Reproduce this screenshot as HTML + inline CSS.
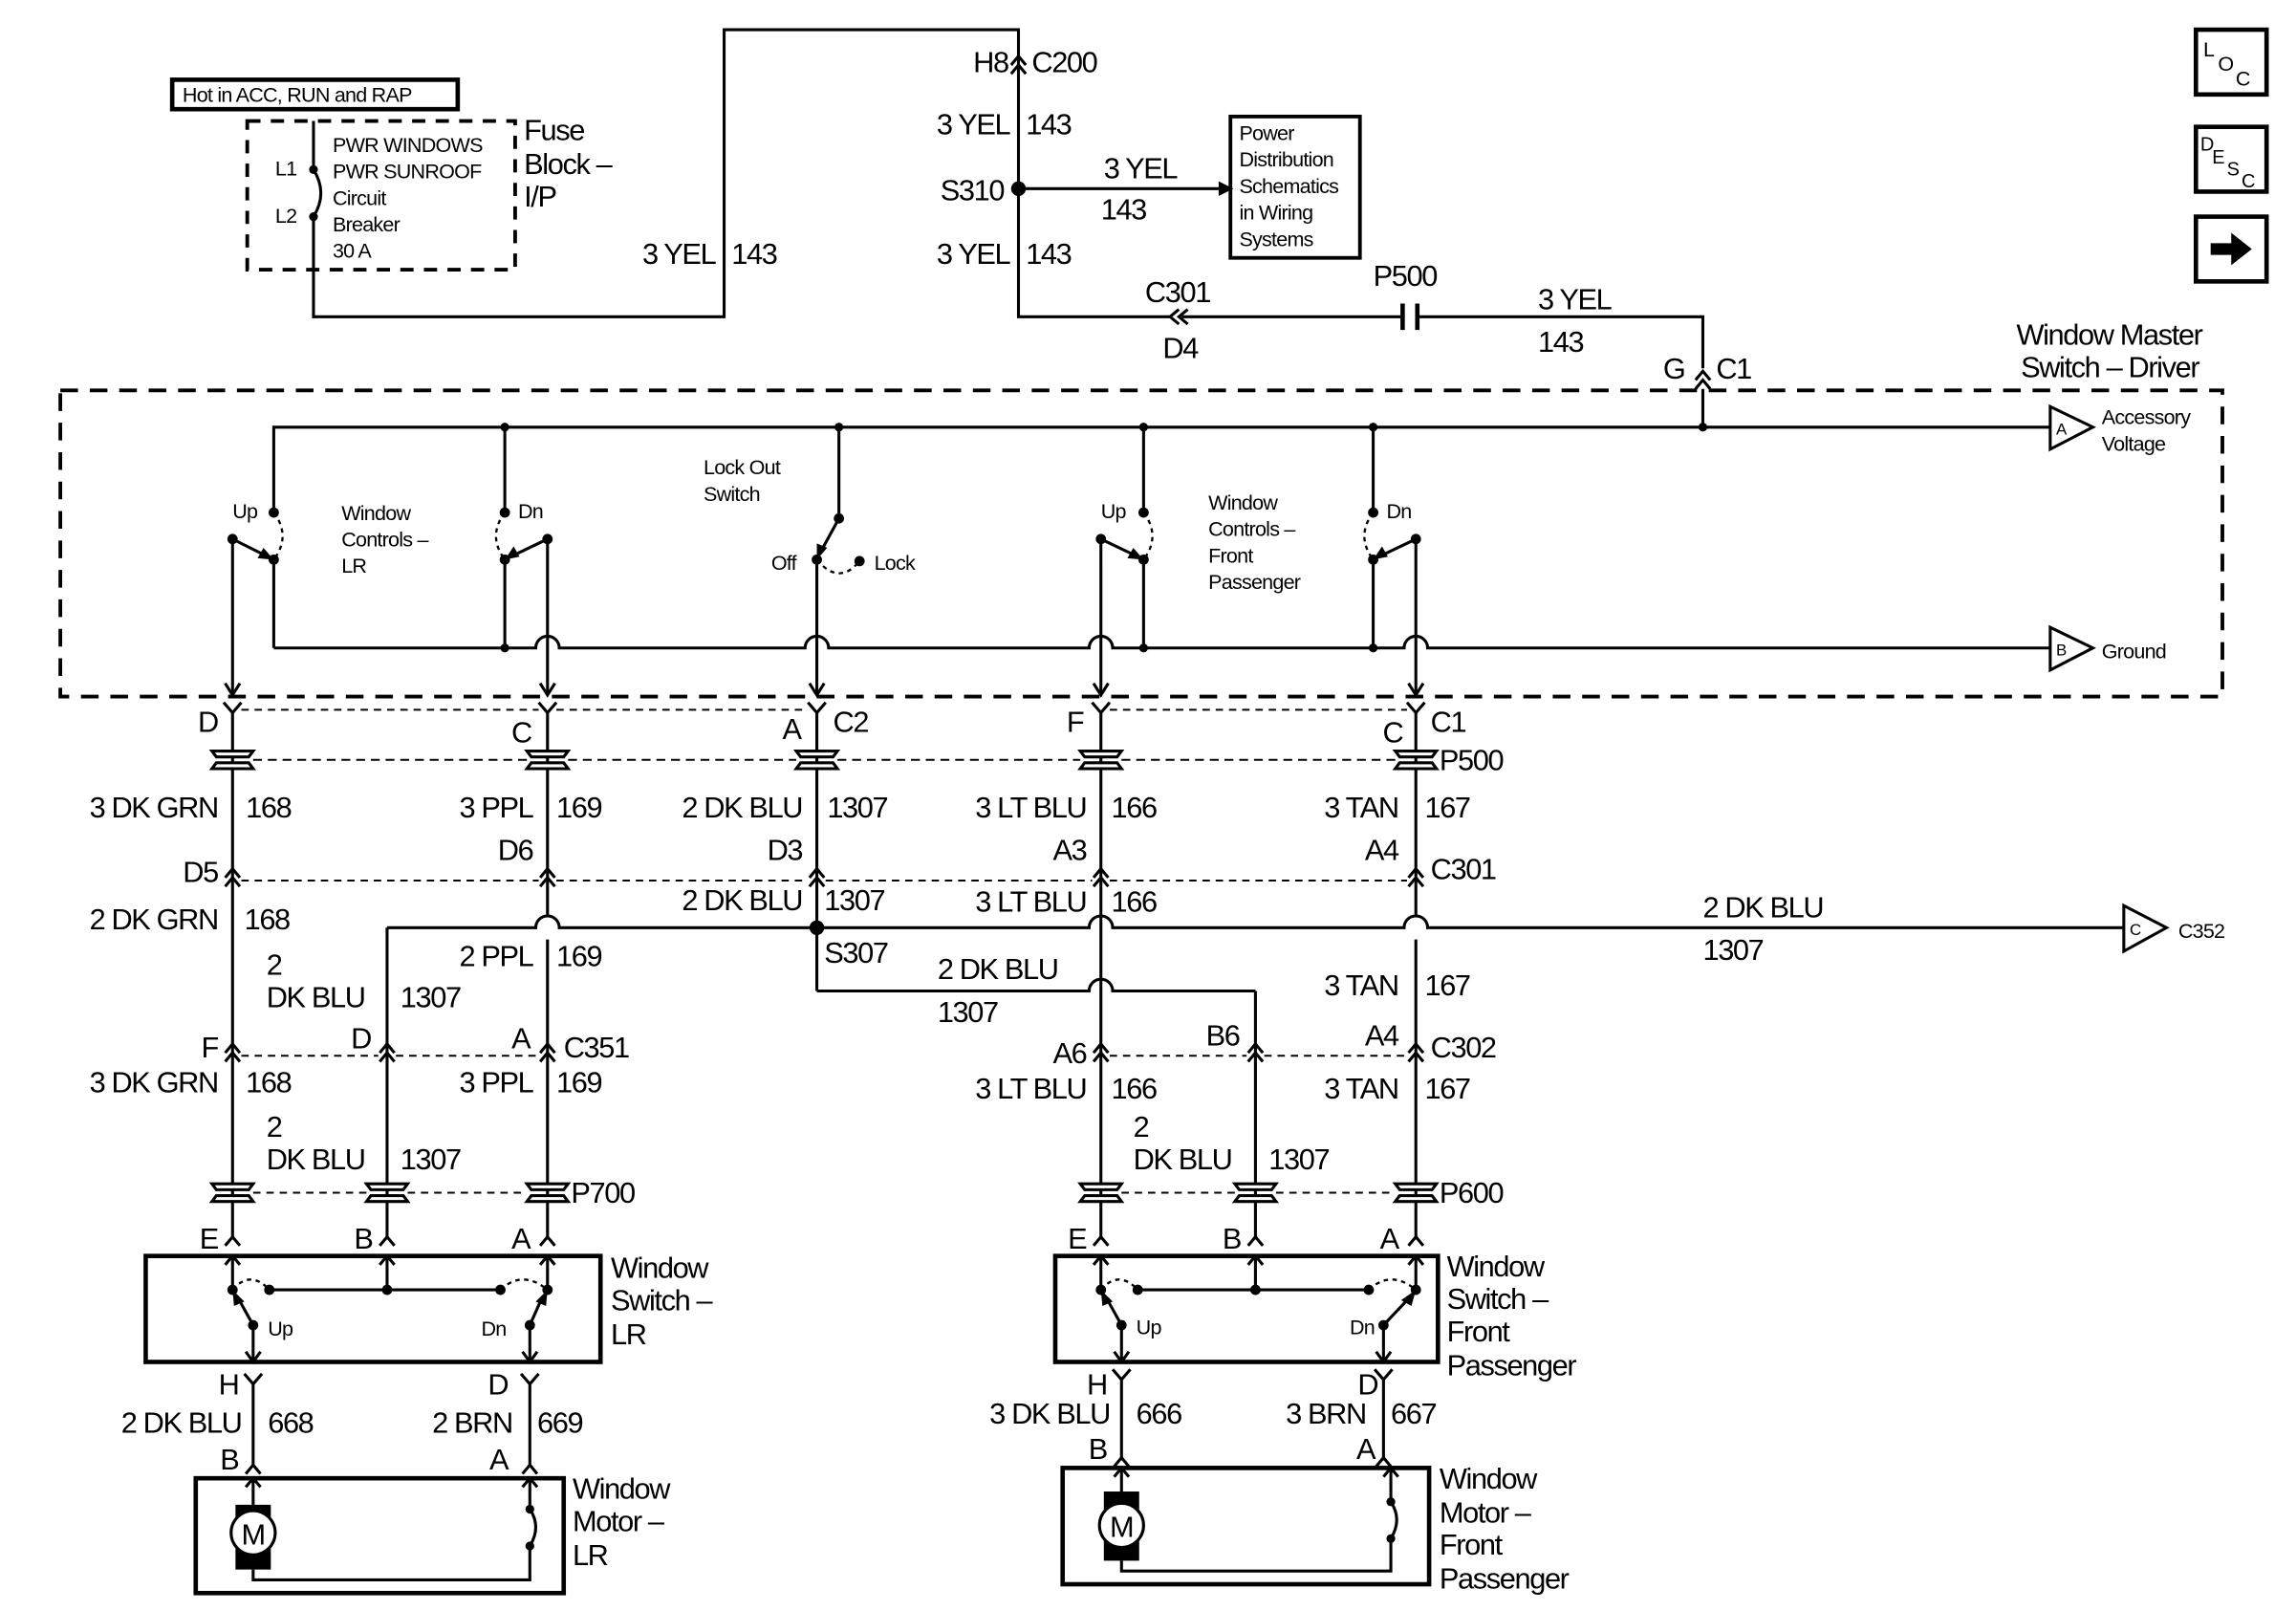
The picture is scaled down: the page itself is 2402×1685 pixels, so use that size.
<!DOCTYPE html>
<html><head><meta charset="utf-8"><style>
html,body{margin:0;padding:0;background:#fff}
svg{display:block}
text{font-family:"Liberation Sans",sans-serif;fill:#000}
.b{font-size:20px;letter-spacing:-0.9px}
.s{font-size:14px;letter-spacing:-0.5px}
.r{text-anchor:end}
</style></head><body>
<svg width="2402" height="1685" viewBox="0 0 1560 1094" xmlns="http://www.w3.org/2000/svg">
<g fill="none" stroke="#000" stroke-width="2">
<rect x="117" y="54" width="194" height="20" stroke-width="3"/>
<rect x="168" y="82" width="182" height="101" stroke-dasharray="9,7" stroke-width="2.5"/>
<path d="M213 82V115 M213 147V215H492V20H692V215H795 M803 215H952 M964 215H1157V250"/>
<path d="M213 115Q223 131 213 147"/>
<path d="M692 128H828"/>
<rect x="836" y="79" width="88" height="96" stroke-width="2.5"/>
<path d="M687 44L692 38L697 44M687 50L692 44L697 50"/>
<path d="M801 210L795 215L801 220M807 210L801 215L807 220"/>
<path d="M953 206V224M963 206V224" stroke-width="3"/>
<path d="M1152 258L1157 252L1162 258M1152 264L1157 258L1162 264M1157 264V290"/>
<rect x="41" y="265" width="1469" height="208" stroke-dasharray="12,8" stroke-width="2.5"/>
<path d="M186 345V290H1393"/>
<path d="M186 380V440"/>
<path d="M186 440H364A8 8 0 0 1 380 440H547A8 8 0 0 1 563 440H740A8 8 0 0 1 756 440H954A8 8 0 0 1 970 440H1393"/>
<path d="M158 366V472 M158 366L180 377"/>
<path d="M186 348Q198 364 186 380" stroke-dasharray="3,3" stroke-width="1.5"/>
<path d="M343 290V348 M343 380V440 M372 366V472 M372 366L349 377" />
<path d="M343 348Q331 364 343 380" stroke-dasharray="3,3" stroke-width="1.5"/>
<path d="M570 290V352 M570 352L558 374 M555 380V472"/>
<path d="M555 380Q570 398 584 381" stroke-dasharray="3,3" stroke-width="1.5"/>
<path d="M777 290V348 M777 380V440 M748 366V472 M748 366L771 377"/>
<path d="M777 348Q789 364 777 380" stroke-dasharray="3,3" stroke-width="1.5"/>
<path d="M933 290V348 M933 380V440 M962 366V472 M962 366L939 377"/>
<path d="M933 348Q921 364 933 380" stroke-dasharray="3,3" stroke-width="1.5"/>
<path d="M1393 276L1422 290L1393 305Z M1393 426L1422 440L1393 455Z M1443 615L1472 630L1443 646Z"/>
<path d="M153 464L158 472L163 464M367 464L372 472L377 464M550 464L555 472L560 464M743 464L748 472L753 464M957 464L962 472L967 464"/>
<path d="M152 477L158 484L164 477M366 477L372 484L378 477M549 477L555 484L561 477M742 477L748 484L754 477M956 477L962 484L968 477"/>
<path d="M164 482H366M378 482H549M754 482H956" stroke-dasharray="5,4" stroke-width="1.3"/>
<path d="M158 484V840M372 484V622M372 638V840M555 484V673M748 484V840M962 484V622M962 638V840M263 630V840M853 673V840"/>
<path d="M263 630H364A8 8 0 0 1 380 630H740A8 8 0 0 1 756 630H954A8 8 0 0 1 970 630H1443"/>
<path d="M555 673H740A8 8 0 0 1 756 673H853"/>
<path d="M172 516H358M386 516H541M569 516H734M762 516H948" stroke-dasharray="6,4" stroke-width="1.3"/>
<path d="M153 596L158 590L163 596M153 602L158 596L163 602M367 596L372 590L377 596M367 602L372 596L377 602M550 596L555 590L560 596M550 602L555 596L560 602M743 596L748 590L753 596M743 602L748 596L753 602M957 596L962 590L967 596M957 602L962 596L967 602"/>
<path d="M164 598H366M378 598H549M561 598H742M754 598H956" stroke-dasharray="5,4" stroke-width="1.3"/>
<path d="M153 715L158 709L163 715M153 721L158 715L163 721M258 715L263 709L268 715M258 721L263 715L268 721M367 715L372 709L377 715M367 721L372 715L377 721"/>
<path d="M743 715L748 709L753 715M743 721L748 715L753 721M848 715L853 709L858 715M848 721L853 715L858 721M957 715L962 709L967 715M957 721L962 715L967 721"/>
<path d="M164 717H257M269 717H366M754 717H847M859 717H956" stroke-dasharray="5,4" stroke-width="1.3"/>
<path d="M172 810H249M277 810H358M762 810H839M867 810H948" stroke-dasharray="5,4" stroke-width="1.3"/>
<path d="M153 846L158 840L163 846M258 846L263 840L268 846M367 846L372 840L377 846M743 846L748 840L753 846M848 846L853 840L858 846M957 846L962 840L967 846"/>
<rect x="99" y="853" width="309" height="72" stroke-width="3"/>
<path d="M158 853V876M153 859L158 853L163 859M263 853V876M258 859L263 853L268 859M372 853V876M367 859L372 853L377 859"/>
<path d="M183 876H340M172 900L162 882M172 900V925M167 918L172 925L177 918M360 900L368 882M360 900V925M355 918L360 925L365 918"/>
<path d="M158 876Q170 862 183 876M340 876Q355 862 372 876" stroke-dasharray="3,3" stroke-width="1.5"/>
<rect x="717" y="853" width="260" height="72" stroke-width="3"/>
<path d="M748 853V876M743 859L748 853L753 859M853 853V876M848 859L853 853L858 859M962 853V876M957 859L962 853L967 859"/>
<path d="M773 876H930M762 900L752 882M762 900V925M757 918L762 925L767 918M940 900L957 882M940 900V925M935 918L940 925L945 918"/>
<path d="M748 876Q760 862 773 876M930 876Q945 862 962 876" stroke-dasharray="3,3" stroke-width="1.5"/>
<path d="M166 933L172 940L178 933M172 940V995M167 1001L172 995L177 1001M354 933L360 940L366 933M360 940V995M355 1001L360 995L365 1001"/>
<path d="M756 930L762 937L768 930M762 937V990M757 996L762 990L767 996M934 930L940 937L946 930M940 937V990M935 996L940 990L945 996"/>
<rect x="133" y="1004" width="250" height="78" stroke-width="3"/>
<path d="M172 1004V1022M167 1010L172 1004L177 1010M172 1066V1073H360V1050M360 1025V1004M355 1010L360 1004L365 1010M360 1025Q368 1037 360 1050"/>
<rect x="722" y="997" width="249" height="79" stroke-width="3"/>
<path d="M762 997V1013M757 1003L762 997L767 1003M762 1060V1067H945V1045M945 1020V997M940 1003L945 997L950 1003M945 1020Q953 1032 945 1045"/>
<rect x="1492" y="20" width="48" height="44" stroke-width="3"/>
<rect x="1492" y="86" width="48" height="44" stroke-width="3"/>
<rect x="1492" y="147" width="48" height="44" stroke-width="3"/>
</g>
<g fill="#000">
<!-- blade arrowheads -->
<path d="M186 380L175 379L179 372Z"/>
<path d="M343 380L349 371L353 378Z"/>
<path d="M555 380L555 369L562 372Z"/>
<path d="M777 380L766 379L770 372Z"/>
<path d="M933 380L939 371L943 378Z"/>
<path d="M158 876L159 887L166 884Z"/>
<path d="M372 876L364 884L371 887Z"/>
<path d="M748 876L749 887L756 884Z"/>
<path d="M962 876L952 883L959 887Z"/>
<rect x="160" y="1022" width="24" height="44"/>
<circle cx="172" cy="1041" r="15" fill="#fff" stroke="#000" stroke-width="2"/>
<rect x="750" y="1013" width="24" height="47"/>
<circle cx="762" cy="1036" r="15" fill="#fff" stroke="#000" stroke-width="2"/>
<path d="M828 123L838 128L828 133Z"/>
<path d="M1502 165H1516V158L1530 169L1516 180V173H1502Z"/>
<circle cx="692" cy="128" r="5"/><circle cx="555" cy="630" r="5"/>
<circle cx="213" cy="115" r="3"/><circle cx="213" cy="147" r="3"/>
<circle cx="343" cy="290" r="3"/><circle cx="570" cy="290" r="3"/><circle cx="777" cy="290" r="3"/><circle cx="933" cy="290" r="3"/><circle cx="1157" cy="290" r="3"/>
<circle cx="186" cy="348" r="3.5"/><circle cx="186" cy="380" r="3.5"/><circle cx="158" cy="366" r="3.5"/>
<circle cx="343" cy="348" r="3.5"/><circle cx="343" cy="380" r="3.5"/><circle cx="372" cy="366" r="3.5"/><circle cx="343" cy="440" r="3"/>
<circle cx="570" cy="352" r="3.5"/><circle cx="555" cy="380" r="3.5"/><circle cx="584" cy="381" r="3.5"/>
<circle cx="777" cy="348" r="3.5"/><circle cx="777" cy="380" r="3.5"/><circle cx="748" cy="366" r="3.5"/><circle cx="777" cy="440" r="3"/>
<circle cx="933" cy="348" r="3.5"/><circle cx="933" cy="380" r="3.5"/><circle cx="962" cy="366" r="3.5"/><circle cx="933" cy="440" r="3"/>
<circle cx="158" cy="876" r="3.5"/><circle cx="183" cy="876" r="3.5"/><circle cx="263" cy="876" r="3.5"/><circle cx="340" cy="876" r="3.5"/><circle cx="372" cy="876" r="3.5"/><circle cx="172" cy="900" r="3.5"/><circle cx="360" cy="900" r="3.5"/>
<circle cx="748" cy="876" r="3.5"/><circle cx="773" cy="876" r="3.5"/><circle cx="853" cy="876" r="3.5"/><circle cx="930" cy="876" r="3.5"/><circle cx="962" cy="876" r="3.5"/><circle cx="762" cy="900" r="3.5"/><circle cx="940" cy="900" r="3.5"/>
<circle cx="360" cy="1025" r="3"/><circle cx="360" cy="1050" r="3"/><circle cx="945" cy="1020" r="3"/><circle cx="945" cy="1045" r="3"/>
</g>
<g fill="#fff" stroke="#000" stroke-width="2">
<path d="M-14 -6H14L11 -2H-11Z M-14 6H14L11 2H-11Z" transform="translate(158,516)"/>
<path d="M-14 -6H14L11 -2H-11Z M-14 6H14L11 2H-11Z" transform="translate(372,516)"/>
<path d="M-14 -6H14L11 -2H-11Z M-14 6H14L11 2H-11Z" transform="translate(555,516)"/>
<path d="M-14 -6H14L11 -2H-11Z M-14 6H14L11 2H-11Z" transform="translate(748,516)"/>
<path d="M-14 -6H14L11 -2H-11Z M-14 6H14L11 2H-11Z" transform="translate(962,516)"/>
<path d="M-14 -6H14L11 -2H-11Z M-14 6H14L11 2H-11Z" transform="translate(158,810)"/>
<path d="M-14 -6H14L11 -2H-11Z M-14 6H14L11 2H-11Z" transform="translate(263,810)"/>
<path d="M-14 -6H14L11 -2H-11Z M-14 6H14L11 2H-11Z" transform="translate(372,810)"/>
<path d="M-14 -6H14L11 -2H-11Z M-14 6H14L11 2H-11Z" transform="translate(748,810)"/>
<path d="M-14 -6H14L11 -2H-11Z M-14 6H14L11 2H-11Z" transform="translate(853,810)"/>
<path d="M-14 -6H14L11 -2H-11Z M-14 6H14L11 2H-11Z" transform="translate(962,810)"/>
</g>
<text x="1397" y="295" style="font-size:11px">A</text>
<text x="1397" y="445" style="font-size:11px">B</text>
<text x="1447" y="635" style="font-size:11px">C</text>
<text x="124" y="69" class="s">Hot in ACC, RUN and RAP</text>
<text x="187" y="119" class="s">L1</text><text x="187" y="151" class="s">L2</text>
<text class="s" x="226" y="103">PWR WINDOWS</text><text class="s" x="226" y="121">PWR SUNROOF</text><text class="s" x="226" y="139">Circuit</text><text class="s" x="226" y="157">Breaker</text><text class="s" x="226" y="175">30 A</text>
<text class="b" x="356" y="95">Fuse</text><text class="b" x="356" y="118">Block –</text><text class="b" x="356" y="140">I/P</text>
<text class="b r" x="486" y="179">3 YEL</text><text class="b" x="497" y="179">143</text>
<text class="b r" x="685" y="49">H8</text><text class="b" x="701" y="49">C200</text>
<text class="b r" x="686" y="91">3 YEL</text><text class="b" x="697" y="91">143</text>
<text class="b r" x="682" y="136">S310</text>
<text class="b" x="750" y="121">3 YEL</text><text class="b" x="748" y="149">143</text>
<text class="b r" x="686" y="179">3 YEL</text><text class="b" x="697" y="179">143</text>
<text class="s" x="842" y="95">Power</text><text class="s" x="842" y="113">Distribution</text><text class="s" x="842" y="131">Schematics</text><text class="s" x="842" y="149">in Wiring</text><text class="s" x="842" y="167">Systems</text>
<text class="b" x="778" y="205">C301</text><text class="b" x="790" y="243">D4</text>
<text class="b" x="933" y="194">P500</text>
<text class="b" x="1045" y="210">3 YEL</text><text class="b" x="1045" y="239">143</text>
<text class="b" x="1130" y="257">G</text><text class="b" x="1166" y="257">C1</text>
<text class="b" x="1370" y="234">Window Master</text><text class="b" x="1373" y="256">Switch – Driver</text>
<text class="s" x="1428" y="288">Accessory</text><text class="s" x="1428" y="306">Voltage</text>
<text class="s" x="1428" y="447">Ground</text>
<text class="s" x="1480" y="637">C352</text>
<text class="s" x="158" y="352">Up</text>
<text class="s" x="232" y="353">Window</text><text class="s" x="232" y="371">Controls –</text><text class="s" x="232" y="389">LR</text>
<text class="s" x="352" y="352">Dn</text>
<text class="s" x="478" y="322">Lock Out</text><text class="s" x="478" y="340">Switch</text>
<text class="s" x="524" y="387">Off</text><text class="s" x="594" y="387">Lock</text>
<text class="s" x="748" y="352">Up</text>
<text class="s" x="821" y="346">Window</text><text class="s" x="821" y="364">Controls –</text><text class="s" x="821" y="382">Front</text><text class="s" x="821" y="400">Passenger</text>
<text class="s" x="942" y="352">Dn</text>
<text class="b r" x="148" y="497">D</text><text class="b r" x="361" y="504">C</text><text class="b r" x="544" y="502">A</text><text class="b" x="566" y="497">C2</text>
<text class="b r" x="736" y="497">F</text><text class="b r" x="953" y="504">C</text><text class="b" x="972" y="497">C1</text>
<text class="b" x="978" y="523">P500</text>
<text class="b r" x="148" y="555">3 DK GRN</text><text class="b" x="167" y="555">168</text>
<text class="b r" x="362" y="555">3 PPL</text><text class="b" x="378" y="555">169</text>
<text class="b r" x="545" y="555">2 DK BLU</text><text class="b" x="562" y="555">1307</text>
<text class="b r" x="738" y="555">3 LT BLU</text><text class="b" x="755" y="555">166</text>
<text class="b r" x="950" y="555">3 TAN</text><text class="b" x="968" y="555">167</text>
<text class="b r" x="148" y="599">D5</text><text class="b r" x="362" y="584">D6</text><text class="b r" x="545" y="584">D3</text><text class="b r" x="738" y="584">A3</text><text class="b r" x="950" y="584">A4</text><text class="b" x="972" y="597">C301</text>
<text class="b r" x="148" y="631">2 DK GRN</text><text class="b" x="166" y="631">168</text>
<text class="b r" x="545" y="618">2 DK BLU</text><text class="b" x="560" y="618">1307</text>
<text class="b r" x="738" y="619">3 LT BLU</text><text class="b" x="755" y="619">166</text>
<text class="b" x="1157" y="623">2 DK BLU</text><text class="b" x="1157" y="652">1307</text>
<text class="b r" x="362" y="656">2 PPL</text><text class="b" x="378" y="656">169</text>
<text class="b" x="560" y="654">S307</text>
<text class="b" x="637" y="665">2 DK BLU</text><text class="b" x="637" y="694">1307</text>
<text class="b r" x="950" y="676">3 TAN</text><text class="b" x="968" y="676">167</text>
<text class="b" x="181" y="662">2</text><text class="b" x="181" y="684">DK BLU</text><text class="b" x="272" y="684">1307</text>
<text class="b r" x="148" y="718">F</text><text class="b r" x="252" y="712">D</text><text class="b r" x="360" y="712">A</text><text class="b" x="383" y="718">C351</text>
<text class="b r" x="738" y="722">A6</text><text class="b r" x="842" y="710">B6</text><text class="b r" x="950" y="710">A4</text><text class="b" x="972" y="718">C302</text>
<text class="b r" x="148" y="742">3 DK GRN</text><text class="b" x="167" y="742">168</text>
<text class="b r" x="362" y="742">3 PPL</text><text class="b" x="378" y="742">169</text>
<text class="b r" x="738" y="746">3 LT BLU</text><text class="b" x="755" y="746">166</text>
<text class="b r" x="950" y="746">3 TAN</text><text class="b" x="968" y="746">167</text>
<text class="b" x="181" y="772">2</text><text class="b" x="181" y="794">DK BLU</text><text class="b" x="272" y="794">1307</text>
<text class="b" x="770" y="772">2</text><text class="b" x="770" y="794">DK BLU</text><text class="b" x="862" y="794">1307</text>
<text class="b" x="388" y="817">P700</text><text class="b" x="978" y="817">P600</text>
<text class="b r" x="148" y="848">E</text><text class="b r" x="253" y="848">B</text><text class="b r" x="360" y="848">A</text>
<text class="b r" x="738" y="848">E</text><text class="b r" x="843" y="848">B</text><text class="b r" x="950" y="848">A</text>
<text class="s" x="182" y="907">Up</text><text class="s" x="327" y="907">Dn</text>
<text class="s" x="772" y="906">Up</text><text class="s" x="917" y="906">Dn</text>
<text class="b" x="415" y="868">Window</text><text class="b" x="415" y="890">Switch –</text><text class="b" x="415" y="913">LR</text>
<text class="b" x="983" y="867">Window</text><text class="b" x="983" y="889">Switch –</text><text class="b" x="983" y="911">Front</text><text class="b" x="983" y="934">Passenger</text>
<text class="b r" x="162" y="947">H</text><text class="b r" x="345" y="947">D</text>
<text class="b r" x="164" y="973">2 DK BLU</text><text class="b" x="182" y="973">668</text>
<text class="b r" x="348" y="973">2 BRN</text><text class="b" x="365" y="973">669</text>
<text class="b r" x="162" y="998">B</text><text class="b r" x="345" y="998">A</text>
<text class="b r" x="752" y="947">H</text><text class="b r" x="936" y="947">D</text>
<text class="b r" x="754" y="967">3 DK BLU</text><text class="b" x="772" y="967">666</text>
<text class="b r" x="928" y="967">3 BRN</text><text class="b" x="945" y="967">667</text>
<text class="b r" x="752" y="991">B</text><text class="b r" x="934" y="991">A</text>
<text class="b" x="164" y="1049">M</text>
<text class="b" x="754" y="1044">M</text>
<text class="b" x="389" y="1018">Window</text><text class="b" x="389" y="1040">Motor –</text><text class="b" x="389" y="1063">LR</text>
<text class="b" x="978" y="1011">Window</text><text class="b" x="978" y="1034">Motor –</text><text class="b" x="978" y="1056">Front</text><text class="b" x="978" y="1079">Passenger</text>
<text x="1497" y="38" style="font-size:14px">L</text><text x="1507" y="48" style="font-size:14px">O</text><text x="1519" y="58" style="font-size:14px">C</text>
<text x="1495" y="102" style="font-size:13px">D</text><text x="1503" y="111" style="font-size:13px">E</text><text x="1513" y="119" style="font-size:13px">S</text><text x="1523" y="127" style="font-size:13px">C</text>
</svg>
</body></html>
